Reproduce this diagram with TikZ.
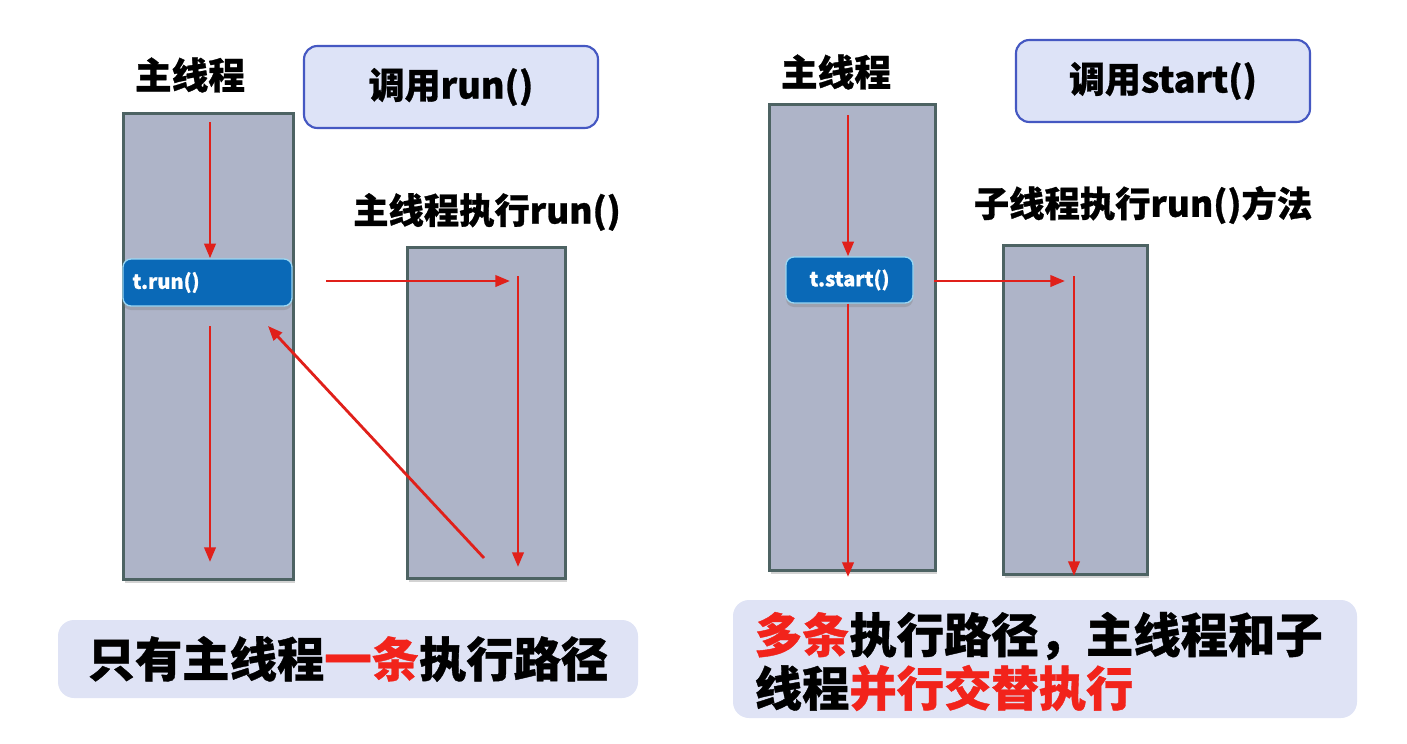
\documentclass[tikz,border=0pt]{standalone}
\usepackage{fontspec}
\newfontfamily\cjk{Noto Sans CJK SC}[BoldFeatures={FakeBold=0.8}]
\usetikzlibrary{arrows.meta,shadows}
\definecolor{thrfill}{HTML}{AEB4C8}
\definecolor{thrdraw}{HTML}{4D6363}
\definecolor{callfill}{HTML}{DDE3F7}
\definecolor{calldraw}{HTML}{4558C2}
\definecolor{notefill}{HTML}{DFE3F5}
\definecolor{tfill}{HTML}{0A69B7}
\definecolor{tdraw}{HTML}{9AD6F2}
\definecolor{arrred}{HTML}{E0201A}
\definecolor{txtred}{HTML}{F2231B}
\tikzset{
  thread/.style={draw=thrdraw, fill=thrfill, line width=2.2pt, inner sep=0pt, anchor=north west,
    drop shadow={opacity=0.35, shadow xshift=1pt, shadow yshift=-3pt}},
  callbox/.style={draw=calldraw, fill=callfill, line width=1.6pt, rounded corners=10pt, inner sep=0pt,
    font=\cjk\bfseries\fontsize{27}{32}\selectfont},
  notebox/.style={fill=notefill, rounded corners=12pt, inner sep=0pt},
  tcall/.style={draw=tdraw, fill=tfill, line width=1pt, rounded corners=6pt, inner sep=0pt,
    text=white, font=\cjk\bfseries\fontsize{15}{18}\selectfont,
    drop shadow={opacity=0.35, shadow xshift=0pt, shadow yshift=-3pt}},
  title/.style={font=\cjk\bfseries\fontsize{27.5}{32}\selectfont},
  subtitle/.style={font=\cjk\bfseries\fontsize{26.5}{30}\selectfont},
  arr/.style={draw=arrred, line width=2.1pt, -{Triangle[length=11pt,width=8.5pt]}},
  bigtxt/.style={font=\cjk\bfseries\fontsize{35.5}{38}\selectfont}
}
\begin{document}
\begin{tikzpicture}[x=0.75pt,y=-0.75pt]
\useasboundingbox (0,0) rectangle (1407,743);
% ---------- left ----------
\node[title] (lmaint) at (190,75) {主线程};
\node[callbox, minimum width=294*0.75pt, minimum height=82*0.75pt] (lcall) at (451,87) {调用run()};
\node[thread, minimum width=170*0.75pt, minimum height=466*0.75pt] (lmain) at (122,112) {};
\node[tcall, minimum width=169*0.75pt, minimum height=47*0.75pt, text width=150*0.75pt, align=left] (trun) at (207.5,282.5) {t.run()};
\node[subtitle] (lsubt) at (487,212) {主线程执行run()};
\node[thread, minimum width=158*0.75pt, minimum height=331*0.75pt] (lsub) at (406,246) {};
\node[notebox, minimum width=580*0.75pt, minimum height=78*0.75pt] (lnote) at (348,659) {};
\node[bigtxt] (lnotet) at (lnote.center) {只有主线程\textcolor{txtred}{一条}执行路径};
\coordinate (l1s) at (210,122);
\coordinate (l2s) at (210,326);
\coordinate (l2e) at (210,562);
\coordinate (lhs) at (326,281);
\coordinate (lhe) at (510,281);
\coordinate (lvs) at (518,276);
\coordinate (lve) at (518,567);
\coordinate (lds) at (484,558);
\coordinate (lde) at (268,326);
\draw[arr] (l1s) -- (trun.north -| l1s);
\draw[arr] (l2s) -- (l2e);
\draw[arr] (lhs) -- (lhe);
\draw[arr] (lvs) -- (lve);
\draw[arr] (lds) -- (lde);
% ---------- right ----------
\node[title] (rmaint) at (836,72) {主线程};
\node[callbox, minimum width=294*0.75pt, minimum height=82*0.75pt] (rcall) at (1163,81) {调用start()};
\node[thread, minimum width=166*0.75pt, minimum height=466*0.75pt] (rmain) at (768,103) {};
\node[tcall, minimum width=127*0.75pt, minimum height=46*0.75pt] (tstart) at (849.5,280) {t.start()};
\node[subtitle] (rsubt) at (1143,205) {子线程执行run()方法};
\node[thread, minimum width=144*0.75pt, minimum height=329*0.75pt] (rsub) at (1002,244) {};
\node[notebox, minimum width=624*0.75pt, minimum height=118*0.75pt] (rnote) at (1045,659) {};
\node[bigtxt, anchor=west] (rnotet1) at (750,636) {\textcolor{txtred}{多条}执行路径，主线程和子};
\node[bigtxt, anchor=west] (rnotet2) at (750,688) {线程\textcolor{txtred}{并行交替执行}};
\coordinate (r1s) at (848,115);
\coordinate (r2e) at (848,577);
\coordinate (rhs) at (934,281);
\coordinate (rhe) at (1065,281);
\coordinate (rvs) at (1074,276);
\coordinate (rve) at (1074,576);
\draw[arr] (r1s) -- (tstart.north -| r1s);
\draw[arr] (tstart.south -| r1s) -- (r2e);
\draw[arr] (rhs) -- (rhe);
\draw[arr] (rvs) -- (rve);
\end{tikzpicture}
\end{document}
